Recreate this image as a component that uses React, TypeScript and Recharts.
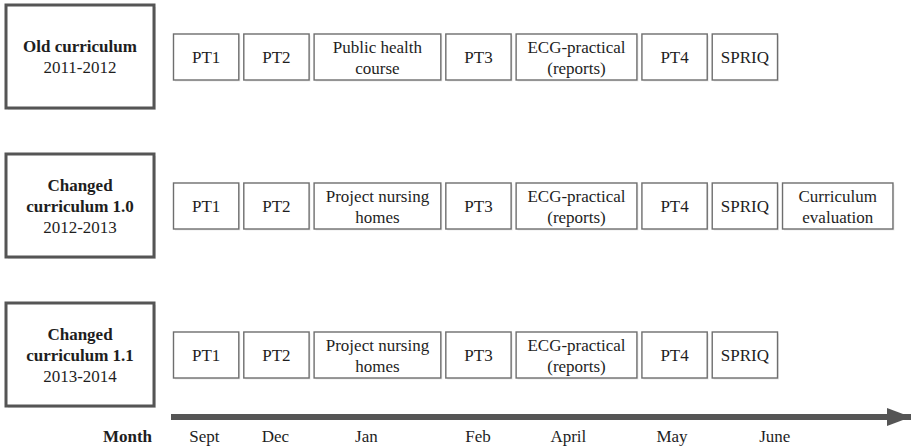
import React from 'react';
import { ComposedChart, Bar, XAxis, YAxis } from 'recharts';

// curricula (y axis), two-line names split by \n
const curriculumNames = ['Old curriculum', 'Changed\ncurriculum 1.0', 'Changed\ncurriculum 1.1'];
const curriculumYears = ['2011-2012', '2012-2013', '2013-2014'];

// activities per curriculum, in timeline order
const oldActivities = ['PT1', 'PT2', 'Public health\ncourse', 'PT3', 'ECG-practical\n(reports)', 'PT4', 'SPRIQ'];
const changed10Activities = ['PT1', 'PT2', 'Project nursing\nhomes', 'PT3', 'ECG-practical\n(reports)', 'PT4', 'SPRIQ', 'Curriculum\nevaluation'];
const changed11Activities = ['PT1', 'PT2', 'Project nursing\nhomes', 'PT3', 'ECG-practical\n(reports)', 'PT4', 'SPRIQ'];

// length of each activity slot on the timeline (timeline runs 0..100)
const slotLengths = [9.5, 9.5, 17.8, 9.5, 17, 9.5, 9.5, 15.6];

// month labels under the arrow
const monthNames = ['Sept', 'Dec', 'Jan', 'Feb', 'April', 'May', 'June'];
const monthTicks = [4.5, 14.1, 26.4, 41.5, 53.7, 67.7, 81.6];

const allActivities = [oldActivities, changed10Activities, changed11Activities];

const rows = curriculumNames.map((name, r) => {
  const row: any = { name };
  allActivities[r].forEach((act, i) => {
    row[`s${i}`] = slotLengths[i];
    row[`a${i}`] = act;
  });
  return row;
});

const FONT = '"Liberation Serif", "Times New Roman", serif';
const TEXT = '#1e1e1e';

function ActivityBox(props: any) {
  const { x, y, width, height, label } = props;
  if (!label || !width) return null;
  const bx = x + 2.5;
  const bw = width - 5;
  const lines = String(label).split('\n');
  const cy = y + height / 2;
  const first = cy + 6 - ((lines.length - 1) * 21) / 2;
  return (
    <g>
      <rect x={bx + 1.5} y={y + 1.5} width={bw} height={height} fill="#ebebeb" />
      <rect x={bx} y={y} width={bw} height={height} fill="#fff" stroke="#6e6e6e" strokeWidth={1.4} />
      <text x={bx + bw / 2} y={first} textAnchor="middle" fontFamily={FONT} fontSize={17} fill={TEXT}>
        {lines.map((l, i) => (
          <tspan key={i} x={bx + bw / 2} y={first + i * 21}>{l}</tspan>
        ))}
      </text>
    </g>
  );
}

function CurriculumTick(props: any) {
  const { x, y, payload } = props;
  const idx = curriculumNames.indexOf(payload.value);
  const lines = String(payload.value).split('\n');
  const all = [...lines, curriculumYears[idx]];
  const cx = x - 91;
  const first = y + 6 - ((all.length - 1) * 21) / 2;
  return (
    <g>
      <rect x={cx - 74 + 2} y={y - 51.5 + 2} width={148} height={103} fill="#e6e6e6" />
      <rect x={cx - 74} y={y - 51.5} width={148} height={103} fill="#fff" stroke="#555" strokeWidth={3} />
      <text x={cx} y={first} textAnchor="middle" fontFamily={FONT} fontSize={17} fill={TEXT}>
        {all.map((l, i) => (
          <tspan key={i} x={cx} y={first + i * 21} fontWeight={i < lines.length ? 'bold' : 'normal'}>{l}</tspan>
        ))}
      </text>
    </g>
  );
}

function MonthTick(props: any) {
  const { x, y, index } = props;
  return (
    <text x={x} y={y + 25} textAnchor="middle" fontFamily={FONT} fontSize={17} fill={TEXT}>
      {monthNames[index]}
    </text>
  );
}

export default function App() {
  return (
    <div style={{ position: 'absolute', left: 0, top: 0, fontFamily: FONT, background: '#fff' }}>
      <ComposedChart
        width={911}
        height={447}
        data={rows}
        layout="vertical"
        margin={{ top: 0, right: 0, bottom: 0, left: 0 }}
        barSize={46}
      >
        <defs>
          <marker id="arrowHead" markerUnits="userSpaceOnUse" markerWidth={24} markerHeight={18} refX={24} refY={9} orient="auto">
            <path d="M0,0 L24,9 L0,18 z" fill="#555" />
          </marker>
        </defs>
        <XAxis
          type="number"
          domain={[0, 100]}
          ticks={monthTicks}
          interval={0}
          height={30}
          tickLine={false}
          tickSize={0}
          tickMargin={0}
          axisLine={{ stroke: '#555', strokeWidth: 6, markerEnd: 'url(#arrowHead)' }}
          tick={<MonthTick />}
          label={{
            content: (p: any) => (
              <text x={p.viewBox.x - 19} y={p.viewBox.y + 25} textAnchor="end" fontFamily={FONT} fontSize={17} fontWeight="bold" fill={TEXT}>
                Month
              </text>
            ),
          }}
        />
        <YAxis
          type="category"
          dataKey="name"
          width={171}
          axisLine={false}
          tickLine={false}
          tickSize={0}
          tickMargin={0}
          padding={{ top: -18, bottom: -12 }}
          tick={<CurriculumTick />}
        />
        {slotLengths.map((_, i) => (
          <Bar
            key={i}
            dataKey={`s${i}`}
            stackId="timeline"
            fill="#fff"
            isAnimationActive={false}
            shape={(p: any) => <ActivityBox {...p} label={p.payload[`a${i}`]} />}
          />
        ))}
      </ComposedChart>
    </div>
  );
}
